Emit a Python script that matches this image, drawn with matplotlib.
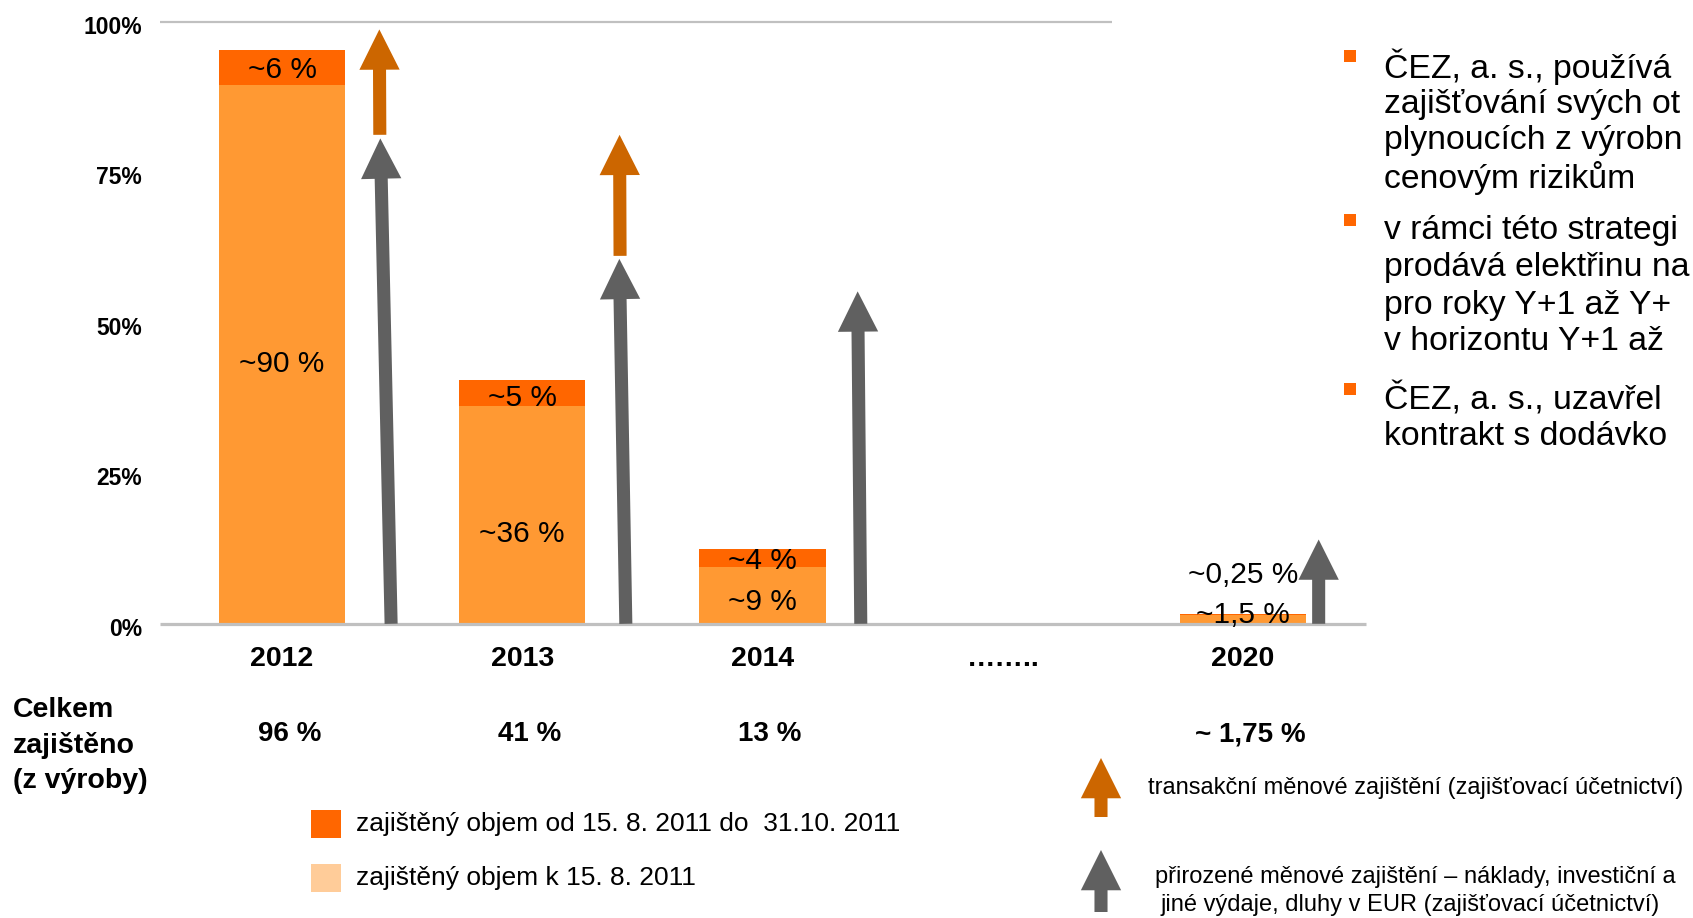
import matplotlib
matplotlib.use("Agg")
import matplotlib.pyplot as plt
import matplotlib.transforms as mtransforms
from matplotlib.patches import Rectangle, FancyArrowPatch

plt.rcParams['font.family'] = ['Liberation Sans', 'DejaVu Sans']

# --- data ---------------------------------------------------------------
years          = ["2012", "2013", "2014", "……..", "2020"]
bar_slots      = [0, 1, 2, 4]                 # slot 3 is the "....." gap
hedged_base    = [89.5, 36.2, 9.5, 1.4]       # zajištěný objem k 15. 8. 2011
hedged_new     = [5.8, 4.3, 3.0, 0.25]        # od 15. 8. 2011 do 31.10. 2011
base_labels    = ["~90 %", "~36 %", "~9 %", "~1,5 %"]
new_labels     = ["~6 %", "~5 %", "~4 %", "~0,25 %"]
base_label_y   = [43.2, 14.9, 3.6, 1.5]
new_label_y    = [92.0, 37.5, 10.5, 8.1]
totals         = ["96 %", "41 %", "13 %", "~ 1,75 %"]
natural_fx     = [80.6, 60.6, 55.2, 14.0]     # grey arrows (prirozene zajisteni)
transaction_fx = [(81.2, 98.7), (61.1, 81.2)] # orange arrows, 2012 and 2013
yticks         = [0, 25, 50, 75, 100]

# right-hand text (cut off by the slide edge in the original)
bullets = [
    ["ČEZ, a. s., používá", "zajišťování svých ot", "plynoucích z výrobn", "cenovým rizikům"],
    ["v rámci této strategi", "prodává elektřinu na", "pro roky Y+1 až Y+", "v horizontu Y+1 až"],
    ["ČEZ, a. s., uzavřel", "kontrakt s dodávko"],
]

# --- colours ------------------------------------------------------------
C_DARK   = "#FF6600"
C_LIGHT  = "#FF9933"
C_LEG_LT = "#FFCC99"
C_ARR_OR = "#CC6600"
C_ARR_GR = "#606060"
C_GRID   = "#C0C0C0"

W, H = 1693, 918
fig = plt.figure(figsize=(W / 100, H / 100), dpi=100)

def fx(px):  # figure pixel -> fraction
    return px / W

def fy(py):  # figure pixel (from top) -> fraction
    return 1 - py / H

ax = fig.add_axes([fx(160), fy(623.8), fx(1366 - 160), fy(21.6) - fy(623.8)])
ax.set_xlim(-0.508, 4.512)
ax.set_ylim(0, 100)
for s in ax.spines.values():
    s.set_visible(False)

# gridlines (only 0 and 100 %)
ax.hlines(100, -0.508, 3.456, color=C_GRID, lw=1.6, clip_on=False)
ax.hlines(0, -0.508, 4.512, color=C_GRID, lw=2.3, clip_on=False, zorder=3)

bw = 0.526
ax.bar(bar_slots, hedged_base, width=bw, color=C_LIGHT, zorder=2)
ax.bar(bar_slots, hedged_new, width=bw, bottom=hedged_base, color=C_DARK, zorder=2)

for x, lb, yb, ln, yn in zip(bar_slots, base_labels, base_label_y, new_labels, new_label_y):
    ax.text(x, yb, lb, ha='center', va='center', fontsize=21.5, zorder=4)
    ax.text(x, yn, ln, ha='center', va='center', fontsize=21.5, zorder=4)

# arrows
arr_style = "simple,head_length=2.9,head_width=2.9,tail_width=0.94"
grey_tail_dx = [0.454, 0.431, 0.409, 0.315]
grey_tip_dx  = [0.409, 0.404, 0.396, 0.315]
for x, top, dt, dh in zip(bar_slots, natural_fx, grey_tail_dx, grey_tip_dx):
    ax.annotate("", xy=(x + dh, top), xytext=(x + dt, 0),
                arrowprops=dict(arrowstyle=arr_style, mutation_scale=10,
                                fc=C_ARR_GR, ec='none', shrinkA=0, shrinkB=0),
                annotation_clip=False, zorder=3)
for x, (lo, hi) in zip(bar_slots[:2], transaction_fx):
    ax.annotate("", xy=(x + 0.405, hi), xytext=(x + 0.407, lo),
                arrowprops=dict(arrowstyle=arr_style, mutation_scale=10,
                                fc=C_ARR_OR, ec='none', shrinkA=0, shrinkB=0),
                annotation_clip=False, zorder=3)

# axes ticks
ax.set_yticks(yticks, [f"{v}%" for v in yticks], fontsize=16.5, fontweight='bold')
ax.set_xticks(range(len(years)), years, fontsize=20.5, fontweight='bold')
ax.tick_params(axis='y', length=0, pad=13)
ax.tick_params(axis='x', length=0, pad=16)
off = mtransforms.ScaledTranslation(0, -3 / 100, fig.dpi_scale_trans)
for lbl in ax.get_yticklabels():
    lbl.set_transform(lbl.get_transform() + off)

# totals row
tr = mtransforms.blended_transform_factory(ax.transData, fig.transFigure)
for x, t in zip(bar_slots, totals):
    ax.text(x + 0.03, fy(734), t, transform=tr, ha='center', va='center',
            fontsize=20, fontweight='bold')

for i, line in enumerate(["Celkem", "zajištěno", "(z výroby)"]):
    fig.text(fx(13), fy(710 + 35.5 * i), line, ha='left', va='center',
             fontsize=20.5, fontweight='bold')

# legend for the bars
for py, col, txt in [(824, C_DARK, "zajištěný objem od 15. 8. 2011 do  31.10. 2011"),
                     (878, C_LEG_LT, "zajištěný objem k 15. 8. 2011")]:
    fig.add_artist(Rectangle((fx(311), fy(py + 14)), fx(30), fy(0) - fy(28),
                             transform=fig.transFigure, fc=col, ec='none'))
    fig.text(fx(356), fy(py), txt, ha='left', va='center', fontsize=19)

# legend for the arrows
for (tip, tail, col) in [(758, 817, C_ARR_OR), (850, 912, C_ARR_GR)]:
    fig.add_artist(FancyArrowPatch(
        (fx(1101), fy(tail)), (fx(1101), fy(tip)), transform=fig.transFigure,
        arrowstyle=arr_style, mutation_scale=10, fc=col, ec='none',
        shrinkA=0, shrinkB=0))
fig.text(fx(1148), fy(788), "transakční měnové zajištění (zajišťovací účetnictví)",
         ha='left', va='center', fontsize=17)
fig.text(fx(1155), fy(877), "přirozené měnové zajištění – náklady, investiční a",
         ha='left', va='center', fontsize=17)
fig.text(fx(1160), fy(905), "jiné výdaje, dluhy v EUR (zajišťovací účetnictví)",
         ha='left', va='center', fontsize=17)

# bullet text on the right
block_y = [67, 231, 399.5]
for y0, lines in zip(block_y, bullets):
    fig.add_artist(Rectangle((fx(1344), fy(y0 - 5)), fx(12), fy(0) - fy(12),
                             transform=fig.transFigure, fc=C_DARK, ec='none'))
    for j, line in enumerate(lines):
        fig.text(fx(1384), fy(y0 + 37 * j), line, ha='left', va='center', fontsize=24.3)

fig.savefig("out.png", dpi=100)
